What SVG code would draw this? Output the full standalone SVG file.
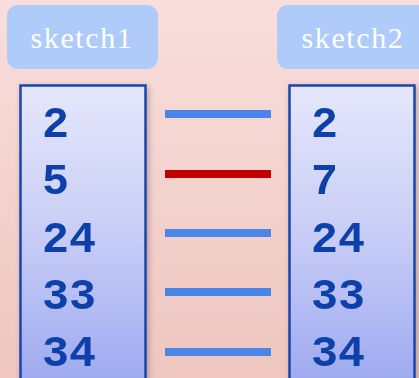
<svg xmlns="http://www.w3.org/2000/svg" width="419" height="378" viewBox="0 0 419 378">
<defs>
<linearGradient id="bg" x1="0" y1="0" x2="0" y2="1">
<stop offset="0" stop-color="#f8dedc"/>
<stop offset="1" stop-color="#efc6c0"/>
</linearGradient>
<linearGradient id="col" x1="0" y1="0" x2="0" y2="1">
<stop offset="0" stop-color="#e5e7fb"/>
<stop offset="0.5" stop-color="#c6ccf6"/>
<stop offset="1" stop-color="#9aa6ef"/>
</linearGradient>
<filter id="sh" x="-20%" y="-10%" width="140%" height="120%">
<feGaussianBlur in="SourceAlpha" stdDeviation="3"/>
<feOffset dx="2" dy="2"/>
<feComponentTransfer><feFuncA type="linear" slope="0.25"/></feComponentTransfer>
<feMerge><feMergeNode/><feMergeNode in="SourceGraphic"/></feMerge>
</filter>
</defs>
<style>
.lbl{fill:#aecbfa}
.lt{font-family:"Liberation Serif",serif;font-size:30px;fill:#ffffff;text-anchor:middle;letter-spacing:1.6px}
.box{fill:url(#col);stroke:#1a44ad;stroke-width:2.5}
.num{font-family:"Liberation Mono",monospace;font-weight:bold;font-size:45px;fill:#0b3fa8}
.eq{stroke:#4a86e8;stroke-width:8}
.ne{stroke:#c00000;stroke-width:8}
</style>
<rect width="419" height="378" fill="url(#bg)"/>
<g id="label1"><rect class="lbl" x="7" y="5" width="151" height="64" rx="11"/><text class="lt" x="82" y="48">sketch1</text></g>
<g id="label2"><rect class="lbl" x="277" y="5" width="160" height="64" rx="11"/><text class="lt" x="353" y="48">sketch2</text></g>
<g id="sketch1" filter="url(#sh)">
<rect class="box" x="20.5" y="85.5" width="125" height="310"/>
<text class="num" x="42" y="137">2</text>
<text class="num" x="42" y="194">5</text>
<text class="num" x="42" y="252">24</text>
<text class="num" x="42" y="309">33</text>
<text class="num" x="42" y="366">34</text>
</g>
<g id="sketch2" filter="url(#sh)">
<rect class="box" x="289.5" y="85.5" width="125" height="310"/>
<text class="num" x="311" y="137">2</text>
<text class="num" x="311" y="194">7</text>
<text class="num" x="311" y="252">24</text>
<text class="num" x="311" y="309">33</text>
<text class="num" x="311" y="366">34</text>
</g>
<g id="connectors">
<line class="eq" x1="165" y1="114" x2="271" y2="114"/>
<line class="ne" x1="165" y1="174" x2="271" y2="174"/>
<line class="eq" x1="165" y1="233" x2="271" y2="233"/>
<line class="eq" x1="165" y1="292" x2="271" y2="292"/>
<line class="eq" x1="165" y1="352" x2="271" y2="352"/>
</g>
</svg>
